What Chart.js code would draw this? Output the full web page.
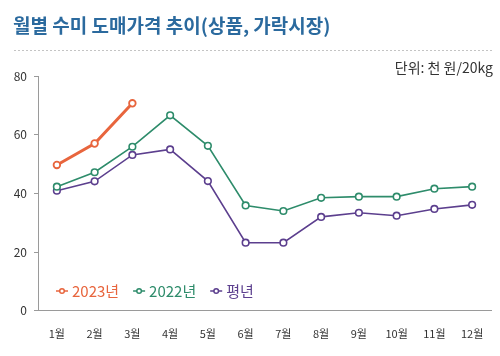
<!DOCTYPE html>
<html>
<head>
<meta charset="utf-8">
<script src="https://cdn.jsdelivr.net/npm/chart.js@4/dist/chart.umd.min.js"></script>
<style>
html,body{margin:0;padding:0;background:#fff;}
#wrap{position:relative;width:500px;height:356px;}
</style>
</head>
<body>
<div id="wrap"><canvas id="c" width="500" height="356"></canvas></div>
<script>
const months = ['1월','2월','3월','4월','5월','6월','7월','8월','9월','10월','11월','12월'];
const price2023 = [49.7, 57.0, 70.7];
const price2022 = [42.3, 47.2, 55.9, 66.6, 56.2, 35.9, 34.0, 38.5, 38.9, 38.9, 41.6, 42.3];
const priceNormal = [40.9, 44.1, 53.1, 55.0, 44.2, 23.2, 23.2, 32.0, 33.4, 32.4, 34.7, 36.1];
const yTicks = [0, 20, 40, 60, 80];
const titleText = '월별 수미 도매가격 추이(상품, 가락시장)';
const unitText = '단위: 천 원/20kg';

const FONT = '"Noto Sans CJK KR", "Noto Sans", sans-serif';
const C23 = '#e8653d', C22 = '#2e8c6b', CN = '#5c3f8e';

const overlay = {
  id: 'overlay',
  afterDraw(chart) {
    const ctx = chart.ctx;
    ctx.save();
    ctx.fillStyle = '#2b6a9e';
    ctx.font = 'bold 19px ' + FONT;
    ctx.textBaseline = 'middle';
    ctx.textAlign = 'left';
    ctx.fillText(titleText, 13, 26);
    ctx.strokeStyle = '#c4c4c4';
    ctx.lineWidth = 1;
    ctx.setLineDash([2, 2]);
    ctx.beginPath();
    ctx.moveTo(14, 50.5);
    ctx.lineTo(494, 50.5);
    ctx.stroke();
    ctx.setLineDash([]);
    ctx.fillStyle = '#333';
    ctx.font = '14px ' + FONT;
    ctx.textAlign = 'right';
    ctx.fillText(unitText, 493, 68);
    let x = 56;
    const y = 291;
    ctx.font = '15px ' + FONT;
    ctx.textAlign = 'left';
    chart.data.datasets.forEach(ds => {
      ctx.strokeStyle = ds.borderColor;
      ctx.lineWidth = 1.5;
      ctx.beginPath();
      ctx.moveTo(x, y); ctx.lineTo(x + 12, y); ctx.stroke();
      ctx.fillStyle = '#fff';
      ctx.beginPath();
      ctx.arc(x + 6, y, 2.3, 0, Math.PI * 2);
      ctx.fill(); ctx.stroke();
      ctx.fillStyle = ds.borderColor;
      ctx.fillText(ds.label, x + 16, y);
      x += 16 + ctx.measureText(ds.label).width + 14;
    });
    ctx.restore();
  }
};

new Chart(document.getElementById('c'), {
  type: 'line',
  data: {
    labels: months,
    datasets: [
      { label: '2023년', data: price2023, borderColor: C23, backgroundColor: '#fff', borderWidth: 3, pointRadius: 3.3, pointBorderWidth: 1.8, pointBackgroundColor: '#fff', pointBorderColor: C23, tension: 0 },
      { label: '2022년', data: price2022, borderColor: C22, backgroundColor: '#fff', borderWidth: 1.6, pointRadius: 3.3, pointBorderWidth: 1.6, pointBackgroundColor: '#fff', pointBorderColor: C22, tension: 0 },
      { label: '평년', data: priceNormal, borderColor: CN, backgroundColor: '#fff', borderWidth: 1.6, pointRadius: 3.3, pointBorderWidth: 1.6, pointBackgroundColor: '#fff', pointBorderColor: CN, tension: 0 }
    ]
  },
  options: {
    responsive: false,
    animation: false,
    layout: { padding: { top: 76, right: 9, bottom: 0, left: 0 } },
    plugins: { legend: { display: false }, tooltip: { enabled: false }, title: { display: false } },
    scales: {
      x: {
        offset: true,
        grid: { display: false, drawTicks: false },
        border: { display: true, color: '#9a9a9a', width: 1 },
        ticks: { color: '#333', padding: 16, font: { family: FONT, size: 11 } }
      },
      y: {
        min: 0, max: 80,
        afterBuildTicks(scale) { scale.ticks = yTicks.map(v => ({ value: v })); },
        afterFit(scale) { scale.width = 38; },
        grid: { drawOnChartArea: false, drawTicks: true, tickLength: 4, color: '#9a9a9a' },
        border: { display: true, color: '#9a9a9a', width: 1 },
        ticks: { color: '#333', padding: 7, font: { family: FONT, size: 12 } }
      }
    }
  },
  plugins: [overlay]
});
</script>
</body>
</html>
